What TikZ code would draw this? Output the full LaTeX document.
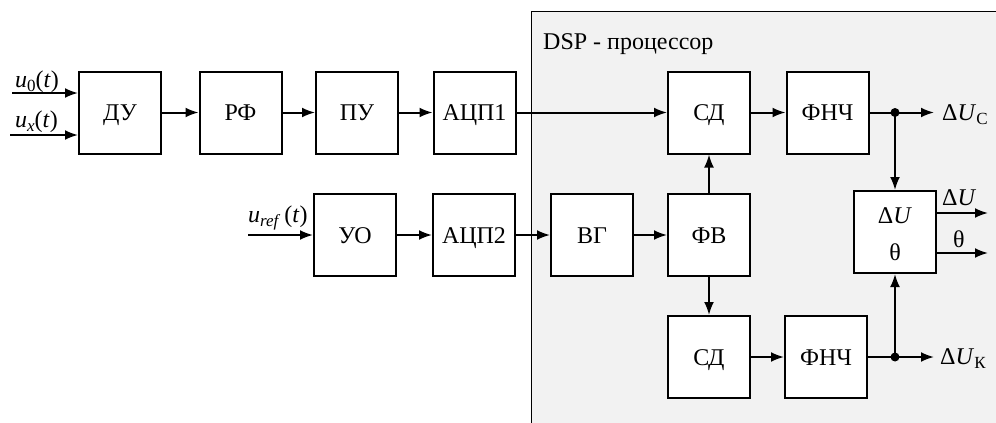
\documentclass[tikz,border=0pt]{standalone}
\usepackage{fontspec}
\setmainfont{Liberation Serif}
\usetikzlibrary{arrows.meta}
\definecolor{dspgray}{RGB}{242,242,242}
\newcommand{\lsub}[1]{\raisebox{-0.45ex}{\fontsize{17}{19}\selectfont #1}}
\begin{document}
\begin{tikzpicture}[x=1pt,y=-1pt,
  blk/.style={draw, line width=2pt, fill=white, minimum width=82pt, minimum height=82pt, inner sep=0pt, text height=16pt, text depth=0pt, font=\fontsize{24}{28}\selectfont},
  arr/.style={line width=2pt, -{Latex[length=13pt,width=10pt]}},
  ln/.style={line width=2pt},
  lbl/.style={font=\fontsize{24}{28}\selectfont, inner sep=0pt, anchor=base west},
  jdot/.style={circle, fill, inner sep=0pt, minimum size=9pt}]
\useasboundingbox (0,0) rectangle (996,423);
\clip (0,0) rectangle (996,423);
\fill[white] (0,0) rectangle (996,423);
\draw[fill=dspgray, line width=1pt] (531.5,11) rectangle (1010,440);
\node[lbl] (dsp) at (543,49) {DSP - процессор};
% top row
\node[blk] (du) at (120,112.5) {ДУ};
\node[blk] (rf) at (240.5,112.5) {РФ};
\node[blk] (pu) at (357,112.5) {ПУ};
\node[blk] (acp1) at (474.5,112.5) {АЦП1};
\node[blk] (sd1) at (709,112.5) {СД};
\node[blk] (fnch1) at (827.5,112.5) {ФНЧ};
% second row
\node[blk] (uo) at (355,235) {УО};
\node[blk] (acp2) at (474,235) {АЦП2};
\node[blk] (vg) at (592,235) {ВГ};
\node[blk] (fv) at (709,235) {ФВ};
% third row
\node[blk] (sd2) at (709,357) {СД};
\node[blk] (fnch2) at (826,357) {ФНЧ};
\node[blk] (res) at (895,232) {};
\node[lbl, anchor=base] (resdu) at (895,223) {Δ\textit{U}};
\node[lbl, anchor=base] (resth) at (895,260) {θ};
% inputs
\coordinate (in0) at (12,93);
\coordinate (inx) at (10,135);
\coordinate (inref) at (248,235);
\draw[arr] (in0) -- (in0 -| du.west);
\draw[arr] (inx) -- (inx -| du.west);
\draw[arr] (inref) -- (uo.west);
\node[lbl] (lu0) at (15,87) {\textit{u}\lsub{0}(\textit{t})};
\node[lbl] (lux) at (15,127) {\textit{u}\lsub{\textit{x}}(\textit{t})};
\node[lbl] (luref) at (248,222) {\textit{u}\lsub{\textit{ref}}\,(\textit{t})};
% chain arrows
\draw[arr] (du) -- (rf);
\draw[arr] (rf) -- (pu);
\draw[arr] (pu) -- (acp1);
\draw[arr] (acp1) -- (sd1);
\draw[arr] (sd1) -- (fnch1);
\draw[arr] (uo) -- (acp2);
\draw[arr] (acp2) -- (vg);
\draw[arr] (vg) -- (fv);
\draw[arr] (fv) -- (sd1);
\draw[arr] (fv) -- (sd2);
\draw[arr] (sd2) -- (fnch2);
% junctions
\node[jdot] (j1) at (895,112.5) {};
\node[jdot] (j2) at (895,357) {};
\coordinate (o1) at (934,112.5);
\coordinate (o2) at (934,357);
\draw[ln] (fnch1.east) -- (j1.center);
\draw[arr] (j1.center) -- (o1);
\draw[arr] (j1.center) -- (res.north);
\draw[ln] (fnch2.east) -- (j2.center);
\draw[arr] (j2.center) -- (o2);
\draw[arr] (j2.center) -- (res.south);
\coordinate (odu) at (988,213);
\coordinate (oth) at (988,253);
\draw[arr] (res.east |- odu) -- (odu);
\draw[arr] (res.east |- oth) -- (oth);
% output labels
\node[lbl] (ldc) at (942,120) {Δ\textit{U}\lsub{С}};
\node[lbl] (ldu) at (942,205) {Δ\textit{U}};
\node[lbl] (lth) at (953,247) {θ};
\node[lbl] (ldk) at (940,364) {Δ\textit{U}\lsub{К}};
\end{tikzpicture}
\end{document}
